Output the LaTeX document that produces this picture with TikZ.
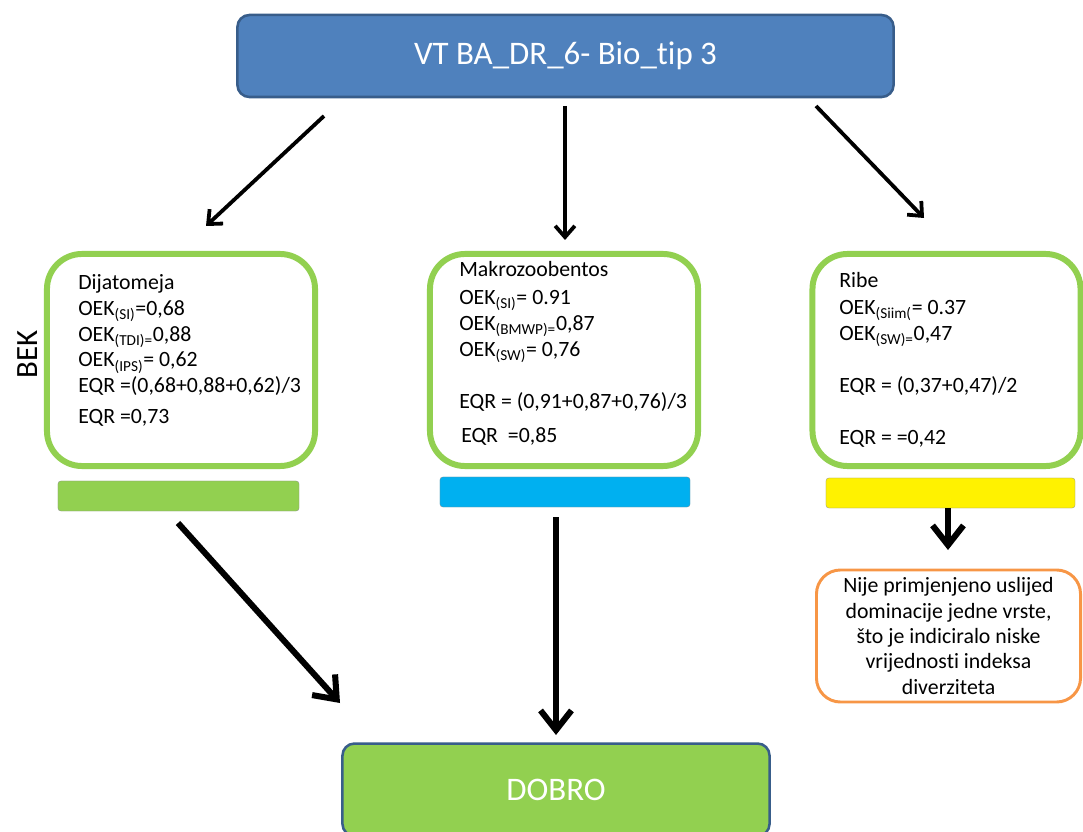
\documentclass[tikz,border=0pt]{standalone}
\usepackage{fontspec}
\setmainfont[Ligatures={NoCommon}]{Carlito}
\usetikzlibrary{arrows.meta}
\definecolor{hdrblue}{HTML}{4F81BD}
\definecolor{hdredge}{HTML}{385D8A}
\definecolor{okgreen}{HTML}{92D050}
\definecolor{skyblue}{HTML}{00B0F0}
\definecolor{noteorange}{HTML}{F79646}
\newcommand{\sbs}[1]{\textsubscript{#1}}

\begin{document}
\begin{tikzpicture}[
	x=0.025cm, y=-0.025cm,
	header/.style={ rectangle, rounded corners=0.3cm, draw=hdredge, line width=1.8pt, fill=hdrblue, text=white, minimum width=16.4cm, minimum height=2.05cm, font=\fontsize{23.4}{28}\selectfont },
	result/.style={ header, fill=okgreen, minimum width=10.675cm, minimum height=2.31cm },
	panel/.style={ rectangle, rounded corners=0.875cm, draw=okgreen, line width=4.25pt, fill=white, minimum width=6.7cm, minimum height=5.3cm },
	bar/.style={ rectangle, rounded corners=2pt, draw=black!45, very thin, minimum height=0.75cm },
	note/.style={ rectangle, rounded corners=0.6cm, draw=noteorange, line width=2.1pt, minimum width=6.6cm, minimum height=3.3cm },
	txt/.style={ inner sep=0pt, align=left, anchor=north west, font=\fontsize{15.5}{18.4}\selectfont },
	thin arrow/.style={ line width=2.7pt, -{Straight Barb[length=8pt,width=14pt]} },
	thick arrow/.style={ line width=4.3pt, -{Straight Barb[length=14pt,width=22pt]} }
]

\clip (0,0) rectangle (1083,832);

\node at (565.5,56) (vt) [header] {VT BA\_DR\_6- Bio\_tip 3};

\node at (181,360) (dijat) [panel] {};
\node at (564,360) (makro) [panel] {};
\node at (946.5,360) (ribe) [panel] {};

\node at (78,274) (dijtxt) [txt] {Dijatomeja\\ OEK\sbs{(SI)}=0,68\\ OEK\sbs{(TDI)=}0,88\\ OEK\sbs{(IPS)}= 0,62\\ EQR =(0,68+0,88+0,62)/3\\[3.5pt] EQR =0,73};
\node at (459,261) (maktxt) [txt] {Makrozoobentos\\[1.4pt] OEK\sbs{(SI)}= 0.91\\ OEK\sbs{(BMWP)=}0,87\\ OEK\sbs{(SW)}= 0,76\\[19pt] EQR = (0,91+0,87+0,76)/3\\[5.7pt] \hspace*{1.4pt}EQR\ \ =0,85};
\node at (839,272) (ribtxt) [txt] {Ribe\\[1pt] OEK\sbs{(Siim(}= 0.37\\ OEK\sbs{(SW)=}0,47\\[18.4pt] EQR = (0,37+0,47)/2\\[19pt] EQR = =0,42};

\node at (28,354) (bek) [rotate=90, font=\fontsize{22}{26}\selectfont] {BEK};

\node at (178.5,496) (dijbar) [bar, fill=okgreen, minimum width=6.025cm] {};
\node at (565,492) (makbar) [bar, fill=skyblue, minimum width=6.25cm] {};
\node at (950.5,493) (ribbar) [bar, fill=yellow, minimum width=6.225cm] {};

\node at (948.5,636) (nije) [note, align=center, font=\fontsize{15.5}{18.1}\selectfont] {Nije primjenjeno uslijed\\ dominacije jedne vrste,\\ što je indiciralo niske\\ vrijednosti indeksa\\ diverziteta};

\node at (556,789.75) (dobro) [result] {DOBRO};

\coordinate (ts1) at (324,116);
\coordinate (te1) at (206,226);
\coordinate (ts2) at (565,106);
\coordinate (te2) at (565,240);
\coordinate (ts3) at (816,106);
\coordinate (te3) at (924,218);
\draw[thin arrow] (ts1) -- (te1);
\draw[thin arrow] (ts2) -- (te2);
\draw[thin arrow] (ts3) -- (te3);

\coordinate (bs1) at (178,523);
\coordinate (be1) at (340,703);
\coordinate (bs2) at (556,517);
\coordinate (be2) at (556,735);
\coordinate (bs3) at (948,508);
\coordinate (be3) at (948,550);
\draw[thick arrow] (bs1) -- (be1);
\draw[thick arrow] (bs2) -- (be2);
\draw[thick arrow] (bs3) -- (be3);

\end{tikzpicture}
\end{document}
